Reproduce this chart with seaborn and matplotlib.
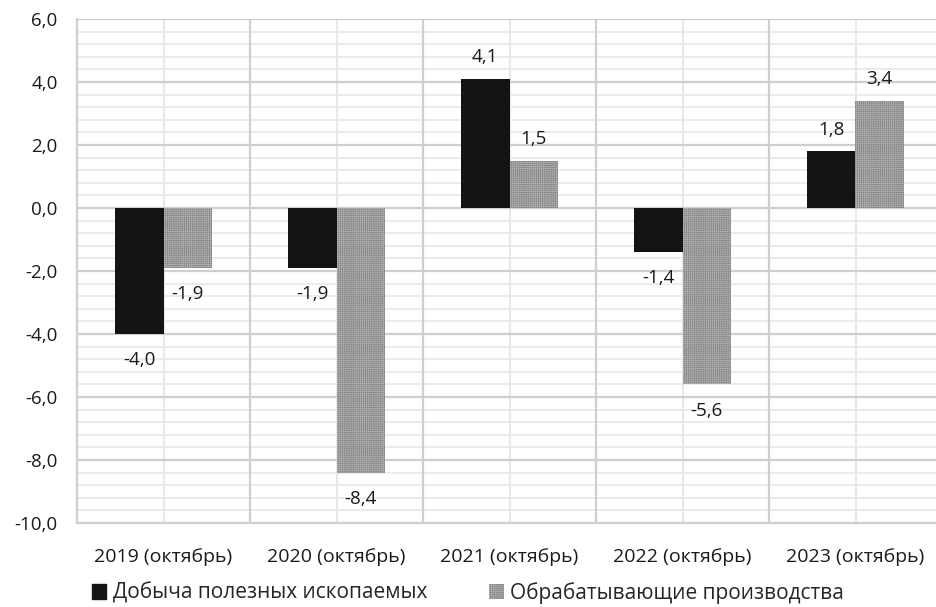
import matplotlib
matplotlib.use("Agg")
import matplotlib.pyplot as plt
import matplotlib.patches as mpatches
from matplotlib.ticker import MultipleLocator, FixedLocator
import seaborn as sns
import pandas as pd

# Data
categories = ["2019 (октябрь)", "2020 (октябрь)", "2021 (октябрь)", "2022 (октябрь)", "2023 (октябрь)"]
series_names = ["Добыча полезных ископаемых", "Обрабатывающие производства"]
mining = [-4.0, -1.9, 4.1, -1.4, 1.8]
manufacturing = [-1.9, -8.4, 1.5, -5.6, 3.4]
y_ticks = [6.0, 4.0, 2.0, 0.0, -2.0, -4.0, -6.0, -8.0, -10.0]

df = pd.DataFrame({
    "period": categories * 2,
    "series": [series_names[0]] * len(categories) + [series_names[1]] * len(categories),
    "value": mining + manufacturing,
})

sns.set_theme(style="white")
plt.rcParams["font.family"] = ["Open Sans", "DejaVu Sans"]
plt.rcParams["hatch.linewidth"] = 0.5

fig = plt.figure(figsize=(9.36, 6.07), dpi=100)
ax = fig.add_axes([77 / 936, 1 - 523 / 607, 865 / 936, (523 - 19) / 607])

black = "#141414"
grey_face = "#bababa"
grey_hatch = "#8a8a8a"
hatch = "++++++++"

sns.barplot(data=df, x="period", y="value", hue="series", order=categories,
            hue_order=series_names, palette=[black, grey_face], width=0.56,
            gap=0, dodge=True, saturation=1, legend=False, ax=ax, zorder=3,
            linewidth=0)

for p in ax.containers[1]:
    p.set_hatch(hatch)
    p.set_edgecolor(grey_hatch)
    p.set_linewidth(0)

def fmt(v):
    return f"{v:.1f}".replace(".", ",")

# Value labels: a little more room below negative bars than above positive ones
for cont, vals in zip(ax.containers, [mining, manufacturing]):
    ax.bar_label(cont, labels=[fmt(v) if v >= 0 else "" for v in vals],
                 padding=9, fontsize=13.5, color="#1a1a1a")
    ax.bar_label(cont, labels=[fmt(v) if v < 0 else "" for v in vals],
                 padding=12.5, fontsize=13.5, color="#1a1a1a")

ax.set_ylim(-10, 6)
ax.set_xlim(-0.5, 4.5)
ax.yaxis.set_major_locator(FixedLocator(y_ticks))
ax.yaxis.set_minor_locator(MultipleLocator(0.4))
ax.set_yticklabels([fmt(v) for v in y_ticks])
ax.xaxis.set_major_locator(FixedLocator(range(len(categories))))
ax.set_xticklabels(categories)
ax.set_xlabel("")
ax.set_ylabel("")

# Grid: major every 2, minor every 0.4, vertical lines at group borders and centres
ax.grid(False)
for y in [i * 0.4 for i in range(-25, 16)]:
    ax.axhline(y, color="#e8e8e8", lw=1.2, zorder=0)
for y in y_ticks:
    ax.axhline(y, color="#cfcfcf", lw=1.6, zorder=1)
for i in range(len(categories)):
    ax.axvline(i, color="#e8e8e8", lw=1.4, zorder=0)
    ax.axvline(i + 0.5, color="#cfcfcf", lw=1.6, zorder=1)

for s in ["top", "right"]:
    ax.spines[s].set_visible(False)
for s in ["left", "bottom"]:
    ax.spines[s].set_color("#cfcfcf")
    ax.spines[s].set_linewidth(1.6)

ax.tick_params(axis="y", which="both", length=0, pad=14, labelsize=13.5, labelcolor="#1a1a1a")
ax.tick_params(axis="x", which="both", length=0, pad=18, labelsize=14, labelcolor="#1a1a1a")

handles = [
    mpatches.Patch(facecolor=black, edgecolor=black, label=series_names[0]),
    mpatches.Patch(facecolor=grey_face, edgecolor=grey_hatch, hatch=hatch,
                   linewidth=0, label=series_names[1]),
]
fig.legend(handles=handles, loc="center", bbox_to_anchor=(0.5, 1 - 593 / 607),
           ncol=2, frameon=False, fontsize=15, handlelength=0.7, handleheight=0.7,
           handletextpad=0.3, columnspacing=3.0)

fig.savefig("out.png", dpi=100)
